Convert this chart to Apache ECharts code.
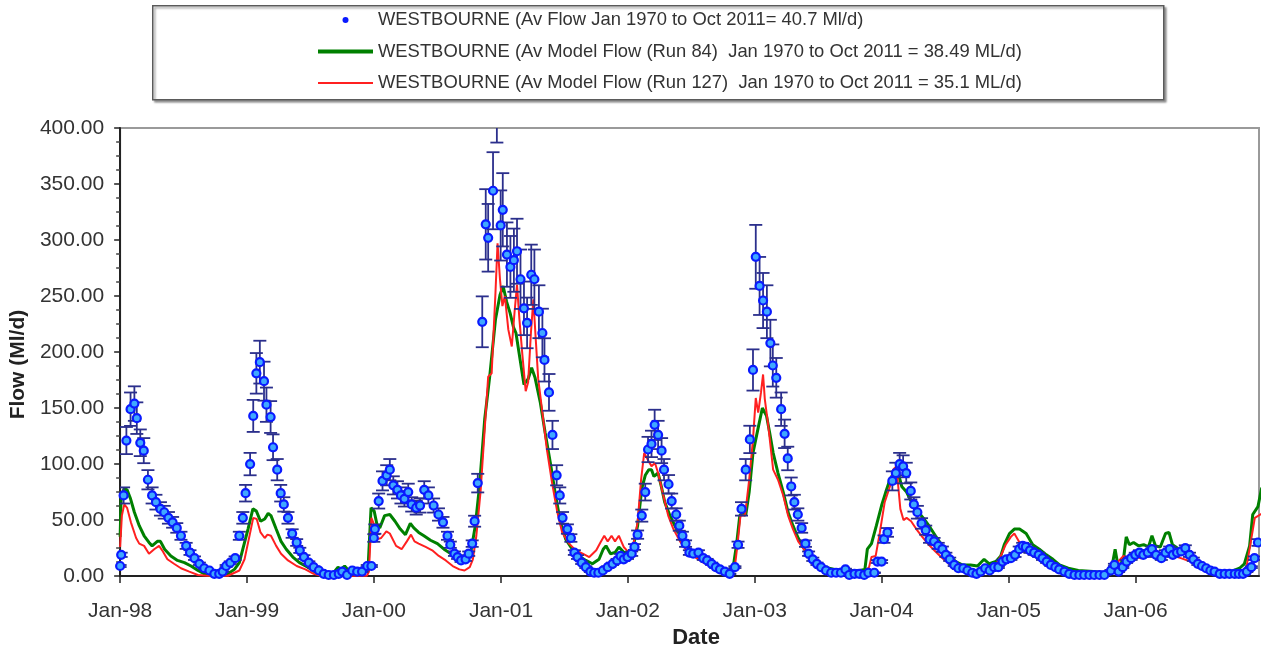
<!DOCTYPE html>
<html>
<head>
<meta charset="utf-8">
<title>Westbourne flow</title>
<script src="https://cdn.jsdelivr.net/npm/echarts@6.0.0/dist/echarts.min.js"></script>
<style>
    html, body { margin: 0; padding: 0; background: #fff; }
    #flow-chart { width: 1261px; height: 654px; }
</style>
</head>
<body>
<div id="flow-chart"></div>
<script>
// observed flow (Ml/d) [date, value]
var observedFlow = [
    ['1998-01-01',9],['1998-01-04',19],['1998-01-11',72],['1998-01-19',121],['1998-01-31',149],['1998-02-11',154],
    ['1998-02-18',141],['1998-02-28',119],['1998-03-10',112],['1998-03-22',86],['1998-04-03',72],['1998-04-14',66],
    ['1998-04-27',60],['1998-05-08',57],['1998-05-20',52],['1998-06-01',48],['1998-06-13',43],['1998-06-25',36],
    ['1998-07-10',27],['1998-07-21',21],['1998-08-03',16],['1998-08-17',11],['1998-08-31',7],['1998-09-15',5],
    ['1998-09-29',2],['1998-10-13',2],['1998-10-23',4],['1998-11-02',9],['1998-11-14',12],['1998-11-28',16],
    ['1998-12-10',36],['1998-12-20',52],['1998-12-28',74],
    ['1999-01-10',100],['1999-01-19',143],['1999-01-28',181],['1999-02-07',191],['1999-02-19',174],['1999-02-26',153],
    ['1999-03-10',142],['1999-03-17',115],['1999-03-29',95],['1999-04-08',74],['1999-04-17',64],['1999-04-29',52],
    ['1999-05-11',38],['1999-05-24',30],['1999-06-02',23],['1999-06-14',17],['1999-06-28',12],['1999-07-12',8],
    ['1999-07-27',5],['1999-08-10',2],['1999-08-24',1],['1999-09-08',1],['1999-09-22',2],['1999-10-02',4],
    ['1999-10-16',1],['1999-10-31',5],['1999-11-14',4],['1999-11-28',4],['1999-12-13',9],['1999-12-25',9],
    ['2000-01-01',34],['2000-01-04',42],['2000-01-15',67],['2000-01-26',85],['2000-02-07',90],['2000-02-16',95],
    ['2000-02-26',81],['2000-03-09',77],['2000-03-19',72],['2000-03-29',69],['2000-04-09',75],['2000-04-19',64],
    ['2000-05-02',61],['2000-05-13',63],['2000-05-25',77],['2000-06-06',72],['2000-06-21',63],['2000-07-05',55],
    ['2000-07-18',48],['2000-07-31',36],['2000-08-08',28],['2000-08-20',20],['2000-08-29',17],['2000-09-08',14],
    ['2000-09-21',15],['2000-09-30',20],['2000-10-10',29],['2000-10-17',49],['2000-10-26',83],['2000-11-08',227],
    ['2000-11-18',314],['2000-11-25',302],['2000-12-09',344],['2000-12-20',430],['2000-12-31',313],
    ['2001-01-06',327],['2001-01-18',287],['2001-01-28',276],['2001-02-07',282],['2001-02-16',290],['2001-02-26',265],
    ['2001-03-08',239],['2001-03-17',226],['2001-03-29',269],['2001-04-07',265],['2001-04-20',236],['2001-04-30',217],
    ['2001-05-06',193],['2001-05-19',164],['2001-05-29',126],['2001-06-10',90],['2001-06-19',72],['2001-06-27',52],
    ['2001-07-11',42],['2001-07-21',34],['2001-07-31',21],['2001-08-09',17],['2001-08-21',12],['2001-09-02',8],
    ['2001-09-15',4],['2001-09-26',3],['2001-10-08',3],['2001-10-21',5],['2001-11-04',8],['2001-11-18',11],
    ['2001-12-01',14],['2001-12-11',18],['2001-12-20',15],['2001-12-31',17],
    ['2002-01-12',20],['2002-01-20',26],['2002-01-29',37],['2002-02-10',54],['2002-02-20',75],['2002-02-28',113],
    ['2002-03-10',118],['2002-03-19',135],['2002-03-29',126],['2002-04-08',112],['2002-04-15',95],['2002-04-28',82],
    ['2002-05-07',67],['2002-05-20',55],['2002-05-29',45],['2002-06-07',36],['2002-06-16',29],['2002-06-27',21],
    ['2002-07-08',20],['2002-07-23',21],['2002-08-06',16],['2002-08-17',14],['2002-08-30',11],['2002-09-11',8],
    ['2002-09-23',6],['2002-10-07',4],['2002-10-21',2],['2002-11-05',8],['2002-11-14',28],['2002-11-24',60],
    ['2002-12-06',95],['2002-12-18',122],['2002-12-27',184],
    ['2003-01-04',285],['2003-01-15',259],['2003-01-25',246],['2003-02-05',236],['2003-02-15',208],['2003-02-22',188],
    ['2003-03-04',177],['2003-03-18',149],['2003-03-28',127],['2003-04-06',105],['2003-04-16',80],['2003-04-25',66],
    ['2003-05-05',55],['2003-05-16',43],['2003-05-27',29],['2003-06-05',20],['2003-06-17',15],['2003-06-29',11],
    ['2003-07-11',8],['2003-07-25',5],['2003-08-09',3],['2003-08-23',3],['2003-09-06',3],['2003-09-19',6],
    ['2003-09-30',1],['2003-10-15',2],['2003-10-29',2],['2003-11-12',1],['2003-11-24',3],['2003-12-11',3],['2003-12-20',13],
    ['2004-01-01',13],['2004-01-08',33],['2004-01-18',39],['2004-02-01',85],['2004-02-11',92],['2004-02-22',100],
    ['2004-03-03',98],['2004-03-12',92],['2004-03-25',76],['2004-04-03',64],['2004-04-13',57],['2004-04-25',47],
    ['2004-05-07',41],['2004-05-18',33],['2004-05-31',31],['2004-06-12',27],['2004-06-24',24],['2004-07-04',19],
    ['2004-07-15',15],['2004-07-28',10],['2004-08-09',7],['2004-08-23',7],['2004-09-04',5],['2004-09-18',3],
    ['2004-09-30',2],['2004-10-12',4],['2004-10-25',7],['2004-11-07',5],['2004-11-20',8],['2004-12-02',8],
    ['2004-12-14',13],['2004-12-25',15],
    ['2005-01-07',16],['2005-01-19',19],['2005-01-31',24],['2005-02-10',27],['2005-02-19',26],['2005-03-03',23],
    ['2005-03-15',21],['2005-03-28',19],['2005-04-08',16],['2005-04-20',13],['2005-05-02',10],['2005-05-15',8],
    ['2005-05-26',6],['2005-06-10',4],['2005-06-24',2],['2005-07-09',1],['2005-07-23',1],['2005-08-06',1],
    ['2005-08-21',1],['2005-09-04',1],['2005-09-19',1],['2005-10-03',1],['2005-10-22',5],['2005-11-01',10],
    ['2005-11-13',4],['2005-11-25',8],['2005-12-06',13],['2005-12-19',16],['2005-12-31',19],
    ['2006-01-12',21],['2006-01-23',19],['2006-02-05',21],['2006-02-17',24],['2006-03-01',19],['2006-03-16',16],
    ['2006-03-28',21],['2006-04-09',24],['2006-04-18',19],['2006-04-30',21],['2006-05-12',22],['2006-05-24',25],
    ['2006-06-05',19],['2006-06-16',15],['2006-06-29',11],['2006-07-11',9],['2006-07-23',7],['2006-08-04',5],
    ['2006-08-16',4],['2006-08-31',2],['2006-09-14',2],['2006-09-28',2],['2006-10-13',2],['2006-10-25',2],
    ['2006-11-06',2],['2006-11-17',4],['2006-11-30',8],['2006-12-09',16],['2006-12-19',30]
];

// model run 84 (green)
var run84Flow = [
    ['1998-01-01',35],['1998-01-04',72],['1998-01-13',78],['1998-01-21',77],['1998-01-31',69],['1998-02-11',57],
    ['1998-02-25',45],['1998-03-11',36],['1998-03-25',30],['1998-04-03',27],['1998-04-18',31],['1998-04-27',31],
    ['1998-05-09',24],['1998-05-27',18],['1998-06-15',14],['1998-07-05',12],['1998-07-24',9],['1998-08-13',5],
    ['1998-09-01',2],['1998-09-20',0.3],['1998-10-20',0.3],['1998-11-07',2],['1998-11-26',6],['1998-12-10',12],['1998-12-20',24],
    ['1999-01-04',42],['1999-01-18',60],['1999-01-28',58],['1999-02-09',49],['1999-02-21',51],['1999-03-03',56],
    ['1999-03-11',54],['1999-03-26',42],['1999-04-09',31],['1999-04-24',24],['1999-05-13',17],['1999-06-01',12],
    ['1999-06-25',8],['1999-07-14',4],['1999-08-02',1],['1999-08-31',0.3],['1999-09-20',8],['1999-09-28',6],
    ['1999-10-09',9],['1999-10-20',5],['1999-10-31',8],['1999-11-14',5],['1999-12-01',6],['1999-12-16',11],['1999-12-24',61],
    ['2000-01-02',58],['2000-01-10',46],['2000-01-18',43],['2000-02-01',54],['2000-02-16',55],['2000-03-02',49],
    ['2000-03-17',42],['2000-04-01',37],['2000-04-15',47],['2000-04-25',43],['2000-05-09',39],['2000-05-24',36],
    ['2000-06-12',32],['2000-07-02',29],['2000-07-21',24],['2000-08-10',20],['2000-08-29',15],['2000-09-13',14],
    ['2000-09-27',15],['2000-10-07',23],['2000-10-19',45],['2000-10-31',80],['2000-11-15',140],['2000-11-29',177],
    ['2000-12-16',229],['2000-12-29',251],
    ['2001-01-07',259],['2001-01-17',245],['2001-01-27',235],['2001-02-06',222],['2001-02-13',217],['2001-02-25',193],
    ['2001-03-08',171],['2001-03-20',176],['2001-03-30',186],['2001-04-09',177],['2001-04-24',155],['2001-05-08',128],
    ['2001-05-23',101],['2001-06-07',72],['2001-06-21',48],['2001-07-06',33],['2001-07-25',24],['2001-08-13',18],
    ['2001-09-02',14],['2001-09-21',11],['2001-10-10',15],['2001-10-22',24],['2001-10-30',27],['2001-11-12',20],
    ['2001-11-25',21],['2001-12-06',26],['2001-12-21',21],
    ['2002-01-01',21],['2002-01-15',24],['2002-01-29',45],['2002-02-10',78],['2002-02-20',90],['2002-03-02',95],
    ['2002-03-10',95],['2002-03-17',89],['2002-03-29',92],['2002-04-08',79],['2002-04-17',66],['2002-05-02',54],
    ['2002-05-21',42],['2002-06-09',31],['2002-06-28',24],['2002-07-18',18],['2002-08-06',14],['2002-08-30',10],
    ['2002-09-23',7],['2002-10-17',5],['2002-10-31',8],['2002-11-10',29],['2002-11-19',54],['2002-11-29',57],
    ['2002-12-06',54],['2002-12-16',75],['2002-12-27',110],
    ['2003-01-10',131],['2003-01-23',150],['2003-02-04',143],['2003-02-13',128],['2003-02-23',110],['2003-03-09',92],
    ['2003-03-24',75],['2003-04-07',57],['2003-04-21',45],['2003-05-06',34],['2003-05-20',26],['2003-06-08',17],
    ['2003-06-27',12],['2003-07-21',8],['2003-08-19',6],['2003-09-22',5],['2003-10-30',5],['2003-11-14',6],
    ['2003-11-21',24],['2003-12-03',29],['2003-12-17',45],
    ['2004-01-01',63],['2004-01-13',75],['2004-01-25',86],['2004-02-08',94],['2004-02-18',92],['2004-02-28',80],
    ['2004-03-13',75],['2004-04-01',63],['2004-04-19',56],['2004-05-02',51],['2004-05-16',45],['2004-06-04',36],
    ['2004-06-24',27],['2004-07-13',19],['2004-08-01',13],['2004-08-20',10],['2004-09-13',10],['2004-10-03',9],
    ['2004-10-22',15],['2004-11-06',11],['2004-11-25',13],['2004-12-09',18],['2004-12-19',28],
    ['2005-01-03',38],['2005-01-17',42],['2005-02-01',42],['2005-02-20',38],['2005-03-11',28],['2005-03-30',24],
    ['2005-04-19',19],['2005-05-08',15],['2005-05-27',10],['2005-06-21',7],['2005-07-20',5],['2005-09-01',4],
    ['2005-10-10',3],['2005-10-24',7],['2005-11-03',24],['2005-11-12',8],['2005-11-27',15],['2005-12-05',35],
    ['2005-12-14',28],['2005-12-26',30],
    ['2006-01-09',27],['2006-01-24',28],['2006-02-07',26],['2006-02-17',36],['2006-02-27',27],['2006-03-13',26],
    ['2006-03-28',38],['2006-04-07',39],['2006-04-17',28],['2006-05-01',25],['2006-05-20',22],['2006-06-08',18],
    ['2006-06-27',13],['2006-07-17',9],['2006-08-05',6],['2006-09-03',4],['2006-10-02',4],['2006-10-27',7],
    ['2006-11-10',11],['2006-11-25',27],['2006-12-04',55],['2006-12-19',62],['2006-12-30',79]
];

// model run 127 (red)
var run127Flow = [
    ['1998-01-01',26],['1998-01-06',54],['1998-01-13',64],['1998-01-21',61],['1998-02-01',48],['1998-02-16',34],
    ['1998-02-25',29],['1998-03-11',27],['1998-03-25',20],['1998-04-09',24],['1998-04-23',27],['1998-05-02',23],
    ['1998-05-17',15],['1998-06-05',11],['1998-06-25',7],['1998-07-19',4],['1998-08-13',1],['1998-09-10',0.3],
    ['1998-11-07',0.3],['1998-11-26',3],['1998-12-10',5],['1998-12-25',15],
    ['1999-01-09',37],['1999-01-19',52],['1999-01-29',51],['1999-02-09',39],['1999-02-21',34],['1999-03-01',37],
    ['1999-03-11',36],['1999-03-26',27],['1999-04-09',20],['1999-04-29',14],['1999-05-24',9],['1999-06-18',6],
    ['1999-07-12',2],['1999-08-02',0.3],['1999-12-12',0.3],['1999-12-18',4],['1999-12-25',52],
    ['2000-01-03',45],['2000-01-12',33],['2000-01-22',34],['2000-02-06',40],['2000-02-16',38],['2000-03-05',27],
    ['2000-03-21',24],['2000-04-05',31],['2000-04-17',37],['2000-04-27',31],['2000-05-09',29],['2000-05-29',26],
    ['2000-06-17',23],['2000-07-06',18],['2000-07-26',14],['2000-08-15',9],['2000-09-03',6],['2000-09-18',5],
    ['2000-10-03',8],['2000-10-12',15],['2000-10-22',36],['2000-11-03',75],['2000-11-15',131],['2000-11-25',178],
    ['2000-12-05',181],['2000-12-16',253],['2000-12-22',297],['2000-12-29',265],
    ['2001-01-05',241],['2001-01-12',250],['2001-01-22',220],['2001-02-01',205],['2001-02-09',236],['2001-02-16',260],
    ['2001-02-23',229],['2001-03-03',199],['2001-03-13',165],['2001-03-20',173],['2001-03-28',217],['2001-04-04',247],
    ['2001-04-11',211],['2001-04-18',176],['2001-04-30',146],['2001-05-13',113],['2001-05-28',83],['2001-06-12',57],
    ['2001-06-26',39],['2001-07-16',29],['2001-08-04',23],['2001-08-24',20],['2001-09-12',17],['2001-10-02',23],
    ['2001-10-14',30],['2001-10-25',36],['2001-11-04',31],['2001-11-15',36],['2001-11-25',31],['2001-12-06',36],['2001-12-20',26],
    ['2002-01-04',21],['2002-01-16',27],['2002-01-29',48],['2002-02-08',86],['2002-02-17',110],['2002-03-01',103],
    ['2002-03-10',98],['2002-03-20',101],['2002-03-29',92],['2002-04-13',72],['2002-04-27',54],['2002-05-12',42],
    ['2002-05-31',31],['2002-06-19',23],['2002-07-13',17],['2002-08-06',12],['2002-09-04',8],['2002-10-03',5],
    ['2002-10-27',3],['2002-11-05',9],['2002-11-12',27],['2002-11-21',54],['2002-12-04',54],['2002-12-16',86],['2002-12-27',122],
    ['2003-01-04',159],['2003-01-11',146],['2003-01-19',164],['2003-01-25',180],['2003-01-30',158],['2003-02-09',134],
    ['2003-02-23',95],['2003-03-09',86],['2003-03-24',72],['2003-04-07',54],['2003-04-21',42],['2003-05-06',31],
    ['2003-05-25',23],['2003-06-13',15],['2003-07-07',10],['2003-08-05',6],['2003-09-13',4],['2003-11-09',3],
    ['2003-11-26',8],['2003-12-03',17],['2003-12-15',18],['2003-12-27',39],
    ['2004-01-10',66],['2004-01-25',80],['2004-02-03',95],['2004-02-13',98],['2004-02-18',80],['2004-02-24',60],
    ['2004-03-04',50],['2004-03-13',52],['2004-03-26',49],['2004-04-10',42],['2004-04-27',35],['2004-05-16',28],
    ['2004-06-04',22],['2004-06-24',16],['2004-07-13',11],['2004-08-06',7],['2004-08-30',5],['2004-09-28',5],
    ['2004-10-27',8],['2004-11-25',10],['2004-12-09',18],['2004-12-23',28],
    ['2005-01-07',35],['2005-01-17',38],['2005-02-01',30],['2005-02-20',24],['2005-03-16',19],['2005-04-08',15],
    ['2005-05-08',9],['2005-06-06',5],['2005-07-14',3],['2005-09-20',2],['2005-10-29',4],['2005-11-12',13],
    ['2005-11-27',18],['2005-12-09',16],['2005-12-26',19],
    ['2006-01-14',16],['2006-02-12',18],['2006-03-13',17],['2006-04-07',22],['2006-04-22',18],['2006-05-11',16],
    ['2006-06-08',13],['2006-07-07',9],['2006-08-05',5],['2006-09-13',3],['2006-11-01',4],['2006-11-16',8],
    ['2006-11-28',30],['2006-12-10',52],['2006-12-31',56]
];

// x axis ticks
var tickDates = ['1998-01-01', '1999-01-01', '2000-01-01', '2001-01-01', '2002-01-01',
                 '2003-01-01', '2004-01-01', '2005-01-01', '2006-01-01'];
var tickLabels = ['Jan-98', 'Jan-99', 'Jan-00', 'Jan-01', 'Jan-02', 'Jan-03', 'Jan-04', 'Jan-05', 'Jan-06'];
var xStart = '1998-01-01';
var xEnd = '2006-12-22';

var seriesNames = [
    'WESTBOURNE (Av Flow Jan 1970 to Oct 2011= 40.7 Ml/d)',
    'WESTBOURNE (Av Model Flow (Run 84)  Jan 1970 to Oct 2011 = 38.49 ML/d)',
    'WESTBOURNE (Av Model Flow (Run 127)  Jan 1970 to Oct 2011 = 35.1 ML/d)'
];

// error bars are +/- 10% of the gauged flow
var errFraction = 0.1;

var FONT = 'Liberation Sans, Arial, sans-serif';

// 'yyyy-mm-dd' -> ms (UTC)
function toTime(s) {
    var p = s.split('-');
    return Date.UTC(+p[0], +p[1] - 1, +p[2]);
}
function toPoints(list) {
    return list.map(function (p) { return [toTime(p[0]), p[1]]; });
}

var tickValues = tickDates.map(toTime);
var errorData = observedFlow.map(function (p) {
    return [toTime(p[0]), p[1] * (1 - errFraction), p[1] * (1 + errFraction)];
});

//误差线
function renderErrorBar(params, api) {
    var t = api.value(0);
    var lo = api.coord([t, api.value(1)]);
    var hi = api.coord([t, api.value(2)]);
    var half = 6.5;
    var style = { stroke: '#2b2f8c', lineWidth: 1.8 };
    return {
        type: 'group',
        children: [
            { type: 'line', shape: { x1: lo[0], y1: hi[1], x2: lo[0], y2: lo[1] }, style: style },
            { type: 'line', shape: { x1: lo[0] - half, y1: hi[1], x2: lo[0] + half, y2: hi[1] }, style: style },
            { type: 'line', shape: { x1: lo[0] - half, y1: lo[1], x2: lo[0] + half, y2: lo[1] }, style: style }
        ]
    };
}

var FlowChart = echarts.init(document.getElementById('flow-chart'));
var FlowOption = {
    animation: false,
    backgroundColor: '#fff',
    textStyle: { fontFamily: FONT },
    graphic: [
        {   // legend frame
            type: 'rect',
            left: 152, top: 5, z: -1,
            shape: { width: 1011, height: 94 },
            style: {
                fill: '#fff', stroke: '#5a5a5a', lineWidth: 1.5,
                shadowColor: 'rgba(0,0,0,0.35)', shadowBlur: 2, shadowOffsetX: 2, shadowOffsetY: 2
            }
        }
    ],
    legend: {
        orient: 'vertical',
        left: 318,
        top: 9,
        padding: 0,
        itemGap: 9.5,
        itemWidth: 55,
        itemHeight: 6,
        selectedMode: false,
        textStyle: { fontSize: 18.4, color: '#333', fontFamily: FONT, lineHeight: 22 },
        data: [
            { name: seriesNames[0], icon: 'circle', itemStyle: { color: '#0a1aff', borderWidth: 0 } },
            { name: seriesNames[1], icon: 'path://M0,0h55v4h-55z', itemStyle: { color: '#008000', borderWidth: 0 } },
            { name: seriesNames[2], icon: 'path://M0,0h55v2h-55z', itemStyle: { color: '#ff2020', borderWidth: 0 } }
        ]
    },
    grid: {
        left: 118,
        right: 2,
        top: 128,
        bottom: 77,
        show: true,
        borderColor: '#9a9a9a',
        borderWidth: 2
    },
    xAxis: {
        type: 'value',
        min: toTime(xStart),
        max: toTime(xEnd),
        name: 'Date',
        nameLocation: 'middle',
        nameGap: 49,
        nameTextStyle: { fontSize: 22, fontWeight: 'bold', color: '#222', fontFamily: FONT, padding: [0, 0, 0, 13] },
        axisLine: { lineStyle: { color: '#222', width: 2 } },
        axisTick: { show: true, length: 7, lineStyle: { color: '#222', width: 1.5 }, customValues: tickValues },
        axisLabel: {
            fontSize: 21,
            color: '#333',
            margin: 25,
            customValues: tickValues,
            formatter: function (val) {
                var i = tickValues.indexOf(val);
                return i >= 0 ? tickLabels[i] : '';
            }
        },
        splitLine: { show: false }
    },
    yAxis: {
        type: 'value',
        min: 0,
        max: 400,
        interval: 50,
        name: 'Flow (Ml/d)',
        nameLocation: 'middle',
        nameGap: 84,
        nameTextStyle: { fontSize: 21, fontWeight: 'bold', color: '#222', fontFamily: FONT, padding: [0, 25, 0, 0] },
        axisLine: { show: true, lineStyle: { color: '#222', width: 2 } },
        axisTick: { show: true, length: 6, lineStyle: { color: '#222', width: 1.5 } },
        minorTick: { show: true, splitNumber: 4, length: 4, lineStyle: { color: '#444', width: 1.5 } },
        axisLabel: {
            fontSize: 21,
            color: '#333',
            margin: 16,
            formatter: function (v) { return v.toFixed(2); }
        },
        splitLine: { show: false }
    },
    series: [
        {
            name: seriesNames[1],
            type: 'line',
            data: toPoints(run84Flow),
            symbol: 'none',
            z: 2,
            lineStyle: { color: '#008000', width: 3 },
            itemStyle: { color: '#008000' }
        },
        {
            name: seriesNames[2],
            type: 'line',
            data: toPoints(run127Flow),
            symbol: 'none',
            z: 3,
            lineStyle: { color: '#ff2020', width: 2 },
            itemStyle: { color: '#ff2020' }
        },
        {
            name: 'error',
            type: 'custom',
            renderItem: renderErrorBar,
            data: errorData,
            encode: { x: 0, y: [1, 2] },
            clip: true,
            z: 4
        },
        {
            name: seriesNames[0],
            type: 'scatter',
            data: toPoints(observedFlow),
            symbol: 'circle',
            symbolSize: 8,
            z: 5,
            itemStyle: { color: '#3fa8ff', borderColor: '#0a1aff', borderWidth: 2.2, opacity: 1 }
        }
    ]
};
FlowChart.setOption(FlowOption);
</script>
</body>
</html>
